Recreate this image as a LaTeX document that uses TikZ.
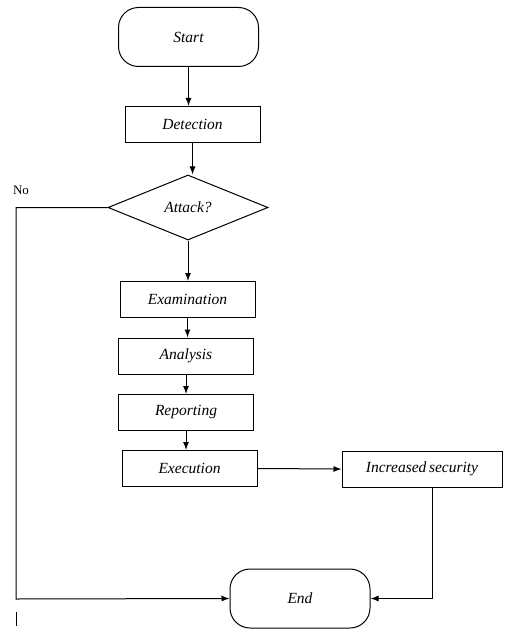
\documentclass[tikz,border=0pt]{standalone}
\usepackage{fontspec}
\setmainfont{Liberation Serif}
\usetikzlibrary{shapes.geometric,arrows.meta}
\begin{document}
\begin{tikzpicture}[x=1pt,y=-1pt,
  line width=1pt,
  lbl/.style={font=\itshape\fontsize{15.5}{18}\selectfont},
  stepbox/.style={draw, rectangle, lbl, minimum width=135pt, minimum height=36pt, inner sep=0pt},
  term/.style={draw, rectangle, rounded corners=20pt, lbl, minimum width=140pt, minimum height=59pt, inner sep=0pt},
  decision/.style={draw, diamond, lbl, minimum width=160pt, minimum height=65pt, inner sep=0pt},
  arr/.style={-{Latex[length=8pt,width=6pt]}}
]
\useasboundingbox (0,0) rectangle (527,631);

% nodes of the flow
\node[term]     (start) at (188.5,37)   {Start};
\node[stepbox]  (det)   at (192.5,124.5){Detection};
\node[decision] (att)   at (188,207.5)  {Attack?};
\node[stepbox]  (exam)  at (187.5,299.5){Examination};
\node[stepbox]  (ana)   at (186,356)    {Analysis};
\node[stepbox]  (rep)   at (186,412.5)  {Reporting};
\node[stepbox]  (exe)   at (189.5,468.5){Execution};
\node[stepbox, minimum width=160pt] (sec) at (422,469) {Increased\,security};
\node[term]     (fin)   at (300,598.5)  {End};

% "No" branch route
\node[font=\fontsize{13}{15}\selectfont] (no) at (21,190) {No};
\coordinate (noTurn) at (16,599);
\coordinate (tickA) at (16,612);
\coordinate (tickB) at (16,626);

% connectors
\draw[arr] (start.south) -- (start.south |- det.north);
\draw[arr] (det.south) -- (det.south |- att.north);
\draw[arr] (att.south) -- (att.south |- exam.north);
\draw[arr] (exam.south) -- (exam.south |- ana.north);
\draw[arr] (ana.south) -- (ana.south |- rep.north);
\draw[arr] (rep.south) -- (rep.south |- exe.north);
\draw[arr] (exe.east) -- (sec.west);
\draw[arr] ([xshift=10pt]sec.south) |- (fin.east);
\draw[arr] (att.west) -| (noTurn) -- (fin.west);
\draw (tickA) -- (tickB);
\end{tikzpicture}
\end{document}
